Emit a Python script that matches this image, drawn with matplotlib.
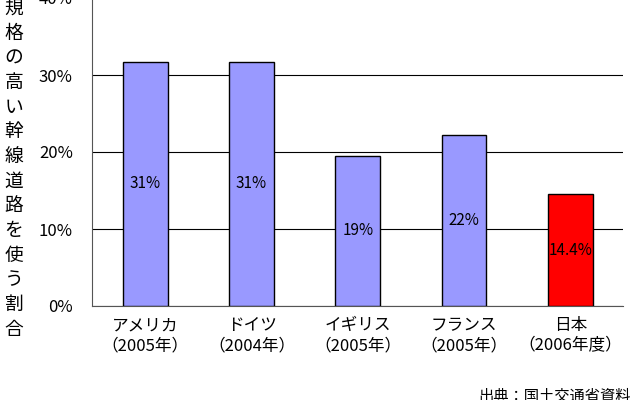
import matplotlib
matplotlib.use("Agg")
import matplotlib.pyplot as plt

plt.rcParams['font.family'] = ['Noto Sans CJK JP', 'DejaVu Sans']

categories = ["アメリカ\n（2005年）", "ドイツ\n（2004年）", "イギリス\n（2005年）", "フランス\n（2005年）", "日本\n（2006年度）"]
values = [31.7, 31.7, 19.5, 22.2, 14.5]
labels = ["31%", "31%", "19%", "22%", "14.4%"]
colors = ["#9999FF", "#9999FF", "#9999FF", "#9999FF", "#FF0000"]
yticks = [0, 10, 20, 30, 40]

fig = plt.figure(figsize=(6.4, 4.0), dpi=100)
ax = fig.add_axes([0.144, 0.235, 0.83, 0.77])

x = range(len(values))
ax.bar(x, values, width=0.42, color=colors, edgecolor="black", linewidth=1, zorder=3)
for i, (v, lab) in enumerate(zip(values, labels)):
    ax.text(i, v / 2, lab, ha="center", va="center", fontsize=11, zorder=4)

ax.set_xlim(-0.5, len(values) - 0.5)
ax.set_ylim(0, 40)
ax.set_yticks(yticks)
ax.set_yticklabels([f"{t}%" for t in yticks], fontsize=12)
ax.yaxis.grid(True, color="black", linewidth=0.8, zorder=0)
ax.set_xticks(list(x))
ax.set_xticklabels(categories, fontsize=12, linespacing=1.25)
ax.tick_params(axis="x", length=0, pad=8)
ax.tick_params(axis="y", length=0, pad=14)
for s in ["top", "right"]:
    ax.spines[s].set_visible(False)
ax.spines["left"].set_color("#555555")
ax.spines["bottom"].set_color("#555555")

ylabel = "規格の高い幹線道路を使う割合"
fig.text(0.022, 1.005, "\n".join(ylabel), ha="center", va="top", fontsize=13.5, linespacing=1.23)

fig.text(0.985, -0.012, "出典：国土交通省資料", ha="right", va="bottom", fontsize=11)

fig.savefig("out.png", dpi=100)
